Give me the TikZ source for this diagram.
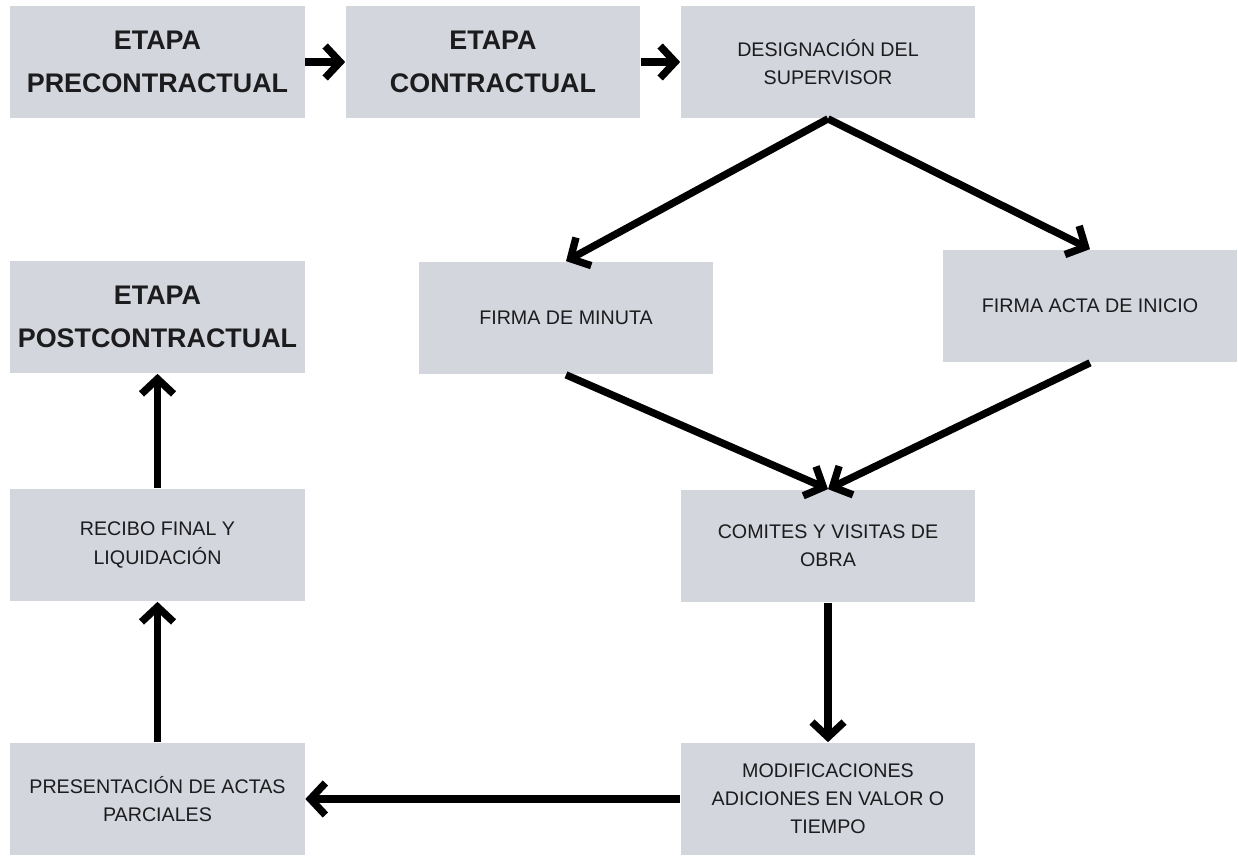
\documentclass[tikz,border=0pt]{standalone}
\usepackage{fontspec}
\setmainfont{Liberation Sans}
\usetikzlibrary{arrows.meta}
\definecolor{boxgray}{RGB}{211,214,220}
\definecolor{ink}{RGB}{28,28,30}
\begin{document}
\begin{tikzpicture}[x=0.02cm, y=-0.02cm,
	box/.style={fill=boxgray, minimum width=5.9cm, minimum height=2.26cm, inner sep=0pt,
		align=center, text=ink, font=\fontsize{11.2}{16}\selectfont},
	title/.style={box, font=\bfseries\fontsize{15.3}{24.5}\selectfont},
	arr/.style={line width=4.2pt, -{Straight Barb[length=0.3cm, width=0.64cm]}}]

		\useasboundingbox[fill=white] (0,0) rectangle (1238,857);

		% top row
		\node[title] (pre) at (157.5,62) {ETAPA\\PRECONTRACTUAL};
		\node[title] (con) at (493,62) {ETAPA\\CONTRACTUAL};
		\node[box, text height=26pt] (sup) at (828,62) {DESIGNACIÓN DEL\\SUPERVISOR};

		% middle
		\node[box] (min) at (566,318) {FIRMA DE MINUTA};
		\node[box] (ini) at (1090,306) {FIRMA ACTA DE INICIO};
		\node[box] (com) at (828,546) {COMITES Y VISITAS DE\\OBRA};
		\node[box] (mod) at (828,799) {MODIFICACIONES\\ADICIONES EN VALOR O\\TIEMPO};

		% left column
		\node[title] (post) at (157.5,317) {ETAPA\\POSTCONTRACTUAL};
		\node[box] (rec) at (157.5,545) {RECIBO FINAL Y\\LIQUIDACIÓN};
		\node[box] (pres) at (157.5,799) {PRESENTACIÓN DE ACTAS\\PARCIALES};

		\foreach \a / \b in {pre.east/con.west, con.east/sup.west, sup.south/min.north,
			sup.south/ini.north, min.south/com.north, ini.south/com.north,
			com.south/mod.north, mod.west/pres.east, pres.north/rec.south, rec.north/post.south} {
		\draw[arr] (\a) -- (\b);
		}

	\end{tikzpicture}
\end{document}
